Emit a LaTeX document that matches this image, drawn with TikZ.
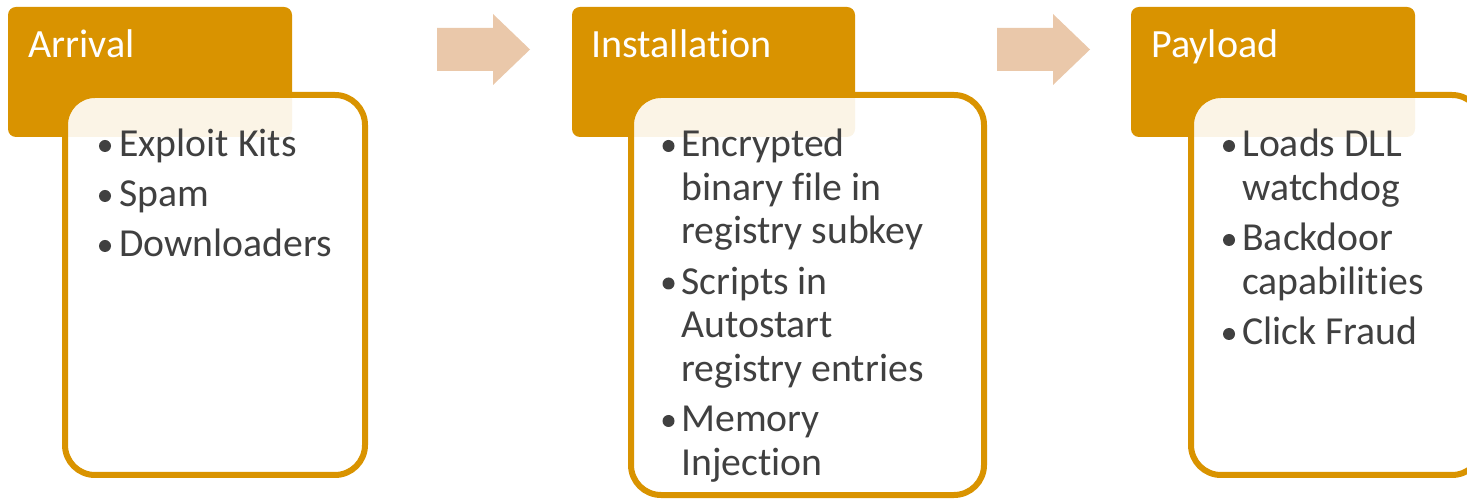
\documentclass[tikz,border=0pt]{standalone}
\usepackage{fontspec}
\setmainfont{Carlito}[Ligatures=NoCommon]
\usepackage{xcolor}
\definecolor{stageorange}{RGB}{217,147,0}
\definecolor{flowpeach}{RGB}{234,200,170}
\definecolor{txtgray}{RGB}{64,64,64}
\usepackage{tikz}
\usetikzlibrary{positioning}

\tikzset{
  hdrbox/.style={fill=stageorange, rounded corners=0.16cm},
  bodybox/.style={draw=stageorange, line width=0.12cm, fill=white, fill opacity=0.9, rounded corners=0.6cm},
  flowarrow/.style={fill=flowpeach},
  hdrtext/.style={font=\fontsize{22.8}{27}\selectfont, white, anchor=base west, inner sep=0pt},
  itemtext/.style={font=\fontsize{22.6}{26}\selectfont, txtgray, anchor=base west, inner sep=0pt},
  dot/.style={fill=txtgray}
}

\begin{document}
\begin{tikzpicture}
  \useasboundingbox (0,0) rectangle (29.34,10.02);
  \clip (0,0) rectangle (29.34,10.02);

  % --- Stage 1: Arrival ---
  \fill[hdrbox] (0.16,7.28) rectangle (5.84,9.88);
  \node[hdrtext] (h1) at (0.56,8.86) {Arrival};
  \draw[bodybox] (1.30,0.52) rectangle (7.30,8.12);
  \fill[dot] (2.10,7.10) circle (0.12);
  \node[itemtext] (t1a) at (2.38,6.88) {Exploit Kits};
  \fill[dot] (2.10,6.10) circle (0.12);
  \node[itemtext] (t1b) at (2.38,5.88) {Spam};
  \fill[dot] (2.10,5.10) circle (0.12);
  \node[itemtext] (t1c) at (2.38,4.88) {Downloaders};

  % Block arrow 1 -> 2
  \fill[flowarrow] (8.74,8.60) -- (9.86,8.60) -- (9.86,8.32) -- (10.60,9.03)
    -- (9.86,9.74) -- (9.86,9.46) -- (8.74,9.46) -- cycle;

  % --- Stage 2: Installation ---
  \fill[hdrbox] (11.44,7.28) rectangle (17.10,9.88);
  \node[hdrtext] (h2) at (11.82,8.86) {Installation};
  \draw[bodybox] (12.62,0.12) rectangle (19.68,8.12);
  \fill[dot] (13.37,7.10) circle (0.12);
  \node[itemtext] (t2a) at (13.62,6.88) {Encrypted};
  \node[itemtext] (t2b) at (13.62,6.01) {binary file in};
  \node[itemtext] (t2c) at (13.62,5.14) {registry subkey};
  \fill[dot] (13.37,4.35) circle (0.12);
  \node[itemtext] (t2d) at (13.62,4.13) {Scripts in};
  \node[itemtext] (t2e) at (13.62,3.26) {Autostart};
  \node[itemtext] (t2f) at (13.62,2.39) {registry entries};
  \fill[dot] (13.37,1.60) circle (0.12);
  \node[itemtext] (t2g) at (13.62,1.38) {Memory};
  \node[itemtext] (t2h) at (13.62,0.51) {Injection};

  % Block arrow 2 -> 3
  \fill[flowarrow] (19.94,8.60) -- (21.06,8.60) -- (21.06,8.32) -- (21.80,9.03)
    -- (21.06,9.74) -- (21.06,9.46) -- (19.94,9.46) -- cycle;

  % --- Stage 3: Payload ---
  \fill[hdrbox] (22.62,7.28) rectangle (28.30,9.88);
  \node[hdrtext] (h3) at (23.02,8.86) {Payload};
  \draw[bodybox] (23.82,0.52) rectangle (29.64,8.12);
  \fill[dot] (24.58,7.10) circle (0.12);
  \node[itemtext] (t3a) at (24.84,6.88) {Loads DLL};
  \node[itemtext] (t3b) at (24.84,6.01) {watchdog};
  \fill[dot] (24.58,5.22) circle (0.12);
  \node[itemtext] (t3c) at (24.84,5.00) {Backdoor};
  \node[itemtext] (t3d) at (24.84,4.13) {capabilities};
  \fill[dot] (24.58,3.34) circle (0.12);
  \node[itemtext] (t3e) at (24.84,3.12) {Click Fraud};
\end{tikzpicture}
\end{document}
